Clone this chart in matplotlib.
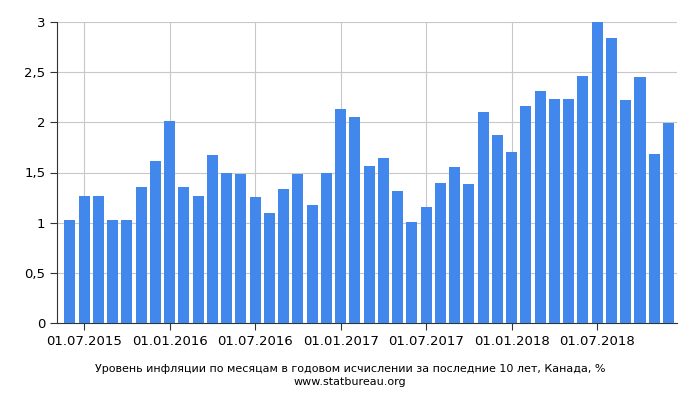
import matplotlib
matplotlib.use("Agg")
import matplotlib.pyplot as plt
import numpy as np

values = [1.03, 1.27, 1.27, 1.03, 1.03, 1.36, 1.61, 2.01, 1.36, 1.27, 1.67, 1.50, 1.49,
          1.26, 1.10, 1.34, 1.49, 1.18, 1.50, 2.13, 2.05, 1.56, 1.64, 1.32, 1.01, 1.16,
          1.40, 1.55, 1.39, 2.10, 1.87, 1.70, 2.16, 2.31, 2.23, 2.23, 2.46, 3.00, 2.84,
          2.22, 2.45, 1.68, 1.99]
tick_labels = ["01.07.2015", "01.01.2016", "01.07.2016", "01.01.2017",
               "01.07.2017", "01.01.2018", "01.07.2018"]
tick_idx = [1, 7, 13, 19, 25, 31, 37]
yticks = [0, 0.5, 1, 1.5, 2, 2.5, 3]
ylabels = ["0", "0,5", "1", "1,5", "2", "2,5", "3"]

fig = plt.figure(figsize=(7, 4), dpi=100)
ax = fig.add_axes([57/700, 77/400, 620/400*400/700, 301/400])
x = np.arange(len(values))
ax.bar(x, values, width=0.78, color="#4287ec", zorder=3)
ax.set_xlim(-0.9, len(values) - 0.4)
ax.set_ylim(0, 3)
ax.set_yticks(yticks)
ax.set_yticklabels(ylabels)
ax.set_xticks(tick_idx)
ax.set_xticklabels(tick_labels)
ax.grid(True, color="#c8c8c8", linewidth=0.8, zorder=0)
for s in ["top", "right"]:
    ax.spines[s].set_visible(False)
ax.spines["left"].set_color("#333333")
ax.spines["bottom"].set_color("#333333")
ax.tick_params(labelsize=9.5, length=5, color="#333333")
fig.text(0.5, 28/400, "Уровень инфляции по месяцам в годовом исчислении за последние 10 лет, Канада, %",
         ha="center", fontsize=8)
fig.text(0.5, 15/400, "www.statbureau.org", ha="center", fontsize=8)
fig.savefig("out.png", dpi=100)
